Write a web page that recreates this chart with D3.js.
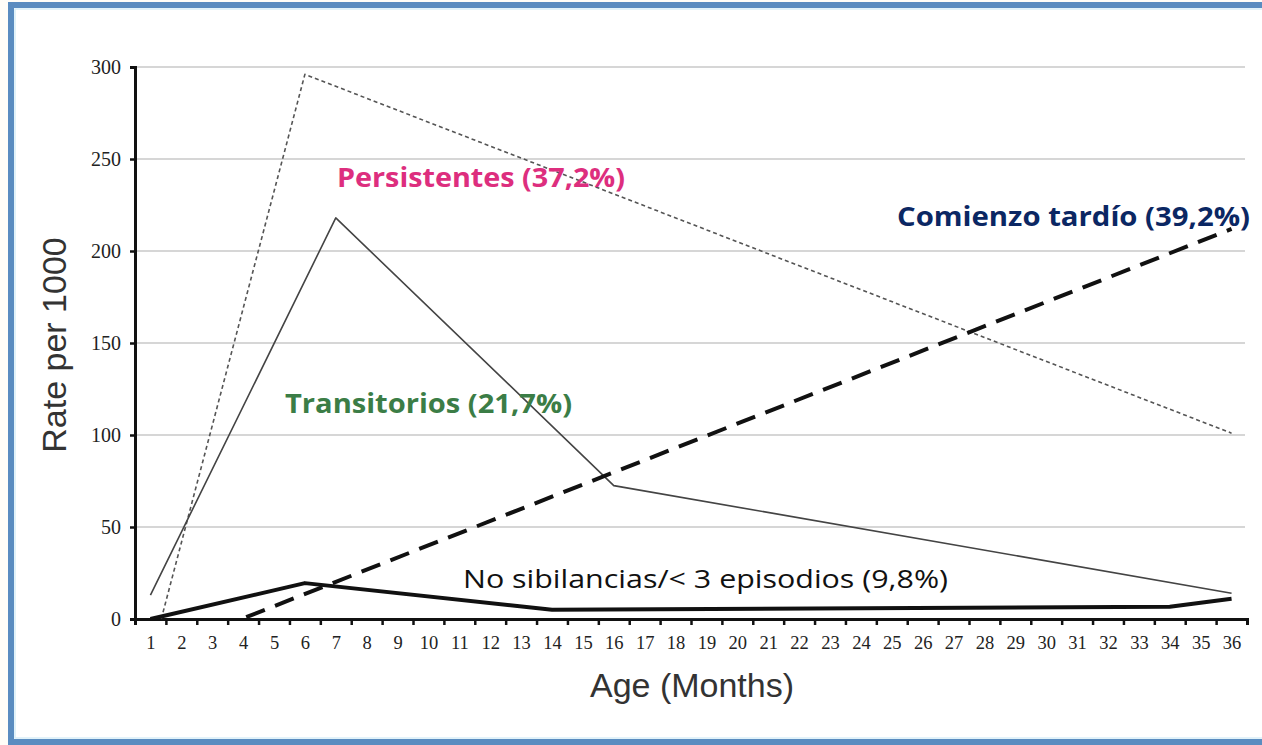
<!DOCTYPE html>
<html>
<head>
<meta charset="utf-8">
<script src="https://cdn.jsdelivr.net/npm/d3@7"></script>
<style>
  body { margin: 0; background: #fffdf8; }
  svg { display: block; }
</style>
</head>
<body>
<svg id="chart" width="1262" height="745"></svg>
<script>
(() => {
// datos
const months = d3.range(1, 37);
const yTicks = [0, 50, 100, 150, 200, 250, 300];

const persistentes = [[1.35, 0], [6, 296], [36, 101]];
const transitorios = [[1, 13], [7, 218], [16, 72.5], [36, 14]];
const tardio = [[4.1, 1], [36, 212]];
const noSibilancias = [[1, 0], [6, 19.5], [14, 5], [34, 6.7], [36, 11]];

const etiquetas = [
  {txt: "Persistentes (37,2%)", x: 337, y: 187, w: 288, color: "#dd2e7e", bold: true},
  {txt: "Transitorios (21,7%)", x: 285, y: 413, w: 287, color: "#3b7d46", bold: true},
  {txt: "Comienzo tardío (39,2%)", x: 897, y: 226, w: 353, color: "#0b2763", bold: true},
  {txt: "No sibilancias/< 3 episodios (9,8%)", x: 463, y: 588, w: 485, color: "#111", bold: false}
];

const svg = d3.select("#chart");

// fondo + marco azul
svg.append("rect").attr("x", 11).attr("y", 5).attr("width", 1262).attr("height", 737)
  .attr("fill", "white").attr("stroke", "#5a8cc0").attr("stroke-width", 6);
svg.append("rect").attr("x", 15).attr("y", 9).attr("width", 1262).attr("height", 729)
  .attr("fill", "none").attr("stroke", "#d8eef8").attr("stroke-width", 1.5);

const margin = {left: 135, top: 67, right: 1247, bottom: 619};

const x = d3.scaleLinear().domain([0.5, 36.5]).range([margin.left, margin.right]);
const y = d3.scaleLinear().domain([0, 300]).range([margin.bottom, margin.top]);

// grille
svg.append("g").selectAll("line").data(yTicks.filter(d => d > 0)).enter()
  .append("line")
  .attr("x1", margin.left).attr("x2", 1245)
  .attr("y1", d => y(d)).attr("y2", d => y(d))
  .attr("stroke", "#d6d6d6").attr("stroke-width", 2);

// axe Y
const axeY = d3.axisLeft(y).tickValues(yTicks).tickSize(5).tickPadding(9);
const gY = svg.append("g").attr("transform", `translate(${margin.left},0)`).call(axeY);
gY.select(".domain").attr("stroke", "#111").attr("stroke-width", 3);
gY.selectAll(".tick line").attr("stroke", "#111").attr("stroke-width", 2.5);
gY.selectAll("text").style("font-family", "'Liberation Serif', serif").style("font-size", "20px").attr("fill", "#222");

// axe X : traits entre les mois, chiffres au centre
const bornes = d3.range(0.5, 37, 1);
const axeX = d3.axisBottom(x).tickValues(bornes).tickSize(6).tickFormat("");
const gX = svg.append("g").attr("transform", `translate(0,${margin.bottom})`).call(axeX);
gX.select(".domain").attr("stroke", "#111").attr("stroke-width", 3);
gX.selectAll(".tick line").attr("stroke", "#111").attr("stroke-width", 2.5);

const axeXLab = d3.axisBottom(x).tickValues(months).tickSize(0).tickPadding(17).tickFormat(d => d);
const gX2 = svg.append("g").attr("transform", `translate(0,${margin.bottom})`).call(axeXLab);
gX2.select(".domain").remove();
gX2.selectAll("text").style("font-family", "'Liberation Serif', serif").style("font-size", "18.5px").attr("fill", "#222");

// titres
svg.append("text").attr("transform", "translate(66,345) rotate(-90)")
  .attr("text-anchor", "middle").style("font-family", "'Liberation Sans', Arial, sans-serif")
  .style("font-size", "34px").attr("fill", "#333").text("Rate per 1000");
svg.append("text").attr("x", 692).attr("y", 697)
  .attr("text-anchor", "middle").style("font-family", "'Liberation Sans', Arial, sans-serif")
  .style("font-size", "34px").attr("fill", "#333").text("Age (Months)");

// courbes
const ligne = d3.line().x(d => x(d[0])).y(d => y(d[1]));
const series = [
  {d: persistentes, w: 1.6, dash: "4,3", c: "#555"},
  {d: transitorios, w: 1.6, dash: null, c: "#444"},
  {d: tardio, w: 4, dash: "20,11", c: "#111"},
  {d: noSibilancias, w: 4, dash: null, c: "#111"}
];
series.forEach(s => {
  svg.append("path").datum(s.d)
    .attr("d", ligne)
    .attr("fill", "none")
    .attr("stroke", s.c)
    .attr("stroke-width", s.w)
    .attr("stroke-linejoin", "round")
    .attr("stroke-dasharray", s.dash);
});

// etiquettes
etiquetas.forEach(e => {
  svg.append("text").attr("x", e.x).attr("y", e.y)
    .attr("textLength", e.w).attr("lengthAdjust", "spacingAndGlyphs")
    .style("font-family", "'Open Sans', 'Noto Sans', sans-serif")
    .style("font-size", "26px")
    .style("font-weight", e.bold ? "bold" : "normal")
    .attr("fill", e.color).text(e.txt);
});
})();
</script>
</body>
</html>
